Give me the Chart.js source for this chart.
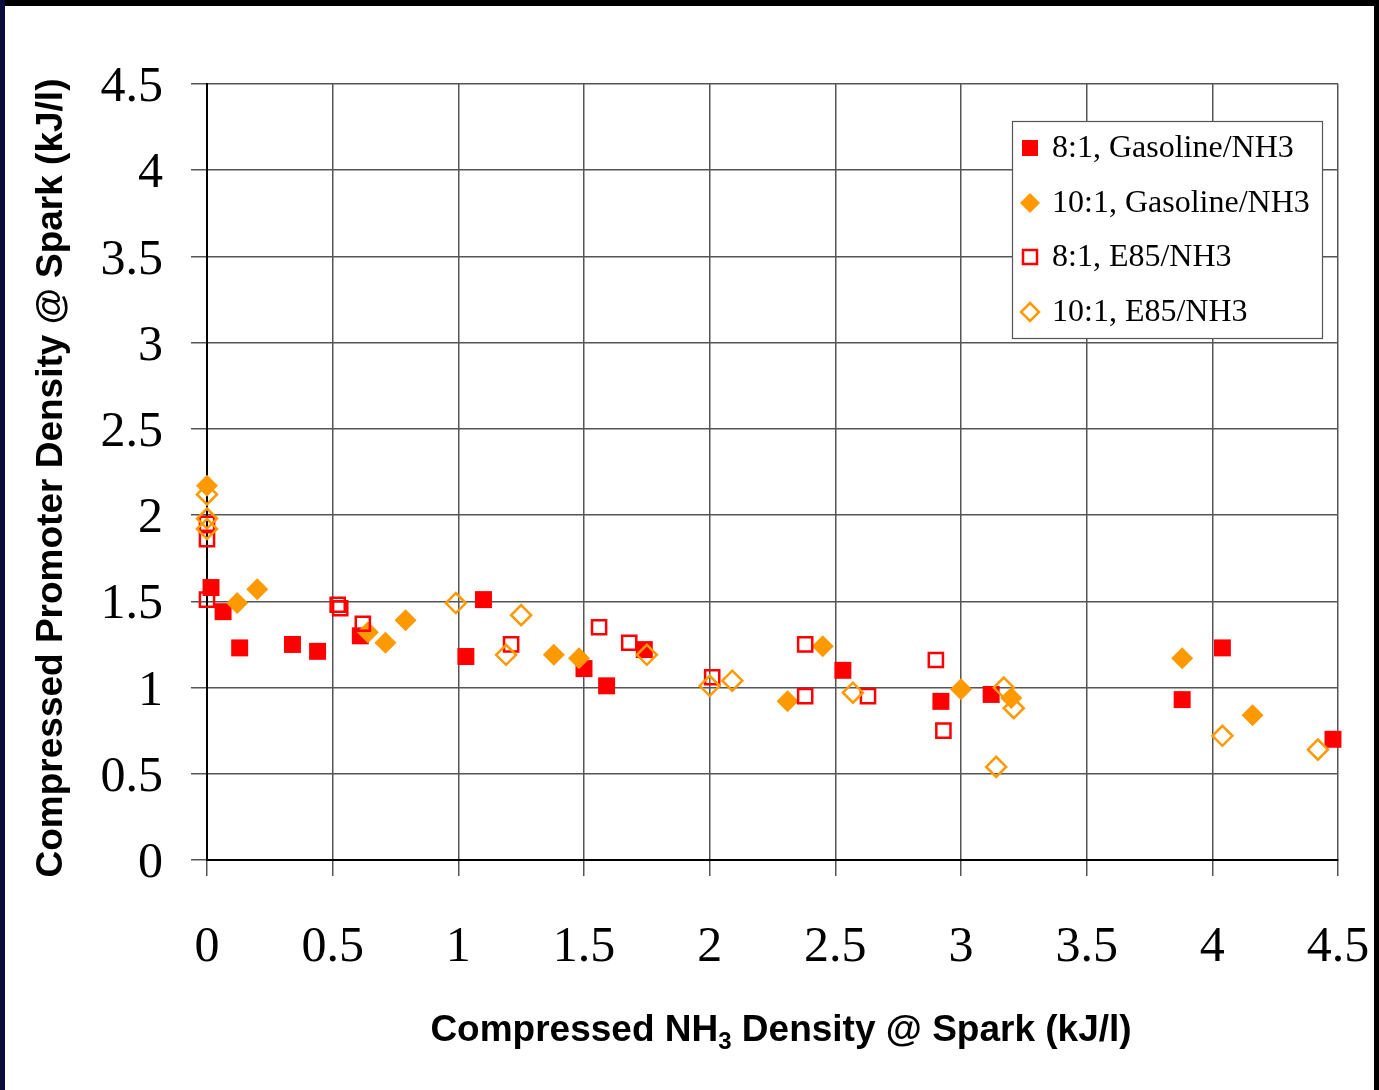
<!DOCTYPE html>
<html>
<head>
<meta charset="utf-8">
<title>Compressed promoter density vs NH3 density</title>
<script src="https://cdn.jsdelivr.net/npm/chart.js@4.4.0/dist/chart.umd.min.js"></script>
<style>
  html, body { margin: 0; padding: 0; background: #fff; }
  #wrap { position: relative; width: 1379px; height: 1090px; overflow: hidden; background: #fff; }
  #chart { position: absolute; left: 0; top: 0; }
  .band { position: absolute; }
</style>
</head>
<body>
<div id="wrap">
  <canvas id="chart" width="1379" height="1090"></canvas>
  <div class="band" style="left:0;top:0;width:1379px;height:6px;background:#000"></div>
  <div class="band" style="left:0;top:0;width:5px;height:1090px;background:#0b0b3c"></div>
  <div class="band" style="left:1374px;top:0;width:5px;height:1090px;background:#000"></div>
</div>
<script>
// Series data (x = NH3 density, y = promoter density)
const gas8X = [0.016, 0.064, 0.13, 0.34, 0.44, 0.61, 1.03, 1.10, 1.50, 1.59, 1.74, 2.53, 2.92, 3.12, 3.88, 4.04, 4.48];
const gas8Y = [1.58, 1.44, 1.23, 1.25, 1.21, 1.30, 1.18, 1.51, 1.11, 1.01, 1.22, 1.10, 0.92, 0.96, 0.93, 1.23, 0.70];

const gas10X = [0.0, 0.12, 0.20, 0.64, 0.71, 0.79, 1.38, 1.48, 2.31, 2.45, 3.00, 3.20, 3.88, 4.16];
const gas10Y = [2.17, 1.49, 1.57, 1.32, 1.26, 1.39, 1.19, 1.17, 0.92, 1.24, 0.99, 0.94, 1.17, 0.84];

const e85_8X = [0.0, 0.0, 0.0, 0.52, 0.53, 0.62, 1.21, 1.56, 1.68, 2.01, 2.38, 2.38, 2.63, 2.90, 2.93];
const e85_8Y = [1.95, 1.86, 1.51, 1.48, 1.46, 1.37, 1.25, 1.35, 1.26, 1.06, 1.25, 0.95, 0.95, 1.16, 0.75];

const e85_10X = [0.0, 0.0, 0.0, 0.99, 1.19, 1.25, 1.75, 2.00, 2.09, 2.57, 3.14, 3.17, 3.21, 4.04, 4.42];
const e85_10Y = [2.12, 1.98, 1.92, 1.49, 1.19, 1.42, 1.19, 1.01, 1.04, 0.97, 0.54, 1.00, 0.88, 0.72, 0.64];

const seriesNames = ["8:1, Gasoline/NH3", "10:1, Gasoline/NH3", "8:1, E85/NH3", "10:1, E85/NH3"];
const tickValues = [0, 0.5, 1, 1.5, 2, 2.5, 3, 3.5, 4, 4.5];

const RED = "#ff0000";
const ORANGE = "#ff9900";

function toPoints(xs, ys) {
  return xs.map((x, i) => ({ x: x, y: ys[i] }));
}

// legend drawn inside the plot, like the original
const legendPlugin = {
  id: "boxLegend",
  afterDraw(chart) {
    const ctx = chart.ctx;
    const left = 1012, top = 121, right = 1322, bottom = 338;
    ctx.save();
    ctx.fillStyle = "#fff";
    ctx.fillRect(left, top, right - left, bottom - top);
    ctx.strokeStyle = "#555";
    ctx.lineWidth = 1.2;
    ctx.strokeRect(left + 0.5, top + 0.5, right - left, bottom - top);

    const rows = [148, 203, 257, 312];
    const mx = 1030;
    ctx.font = '32px "Liberation Serif", "Times New Roman", serif';
    ctx.textBaseline = "middle";
    ctx.textAlign = "left";
    rows.forEach((y, i) => {
      ctx.beginPath();
      if (i === 0) {
        ctx.fillStyle = RED;
        ctx.fillRect(mx - 8, y - 8, 16, 16);
      } else if (i === 1) {
        ctx.fillStyle = ORANGE;
        ctx.moveTo(mx, y - 10); ctx.lineTo(mx + 10, y); ctx.lineTo(mx, y + 10); ctx.lineTo(mx - 10, y);
        ctx.closePath(); ctx.fill();
      } else if (i === 2) {
        ctx.strokeStyle = RED; ctx.lineWidth = 2.5;
        ctx.strokeRect(mx - 7, y - 7, 14, 14);
      } else {
        ctx.strokeStyle = ORANGE; ctx.lineWidth = 2.5;
        ctx.moveTo(mx, y - 9); ctx.lineTo(mx + 9, y); ctx.lineTo(mx, y + 9); ctx.lineTo(mx - 9, y);
        ctx.closePath(); ctx.stroke();
      }
      ctx.fillStyle = "#000";
      ctx.fillText(seriesNames[i], 1052, y + 1);
    });
    ctx.restore();
  }
};

// axis titles (x title needs a subscript 3)
const titlePlugin = {
  id: "axisTitles",
  afterDraw(chart) {
    const ctx = chart.ctx;
    ctx.save();
    ctx.fillStyle = "#000";
    const big = 'bold 37px "Liberation Sans", Arial, sans-serif';
    const small = 'bold 24px "Liberation Sans", Arial, sans-serif';
    const p1 = "Compressed NH", p2 = "3", p3 = " Density @ Spark (kJ/l)";
    ctx.font = big;
    const w1 = ctx.measureText(p1).width, w3 = ctx.measureText(p3).width;
    ctx.font = small;
    const w2 = ctx.measureText(p2).width;
    let x = 781 - (w1 + w2 + w3) / 2;
    const base = 1041;
    ctx.textBaseline = "alphabetic";
    ctx.textAlign = "left";
    ctx.font = big; ctx.fillText(p1, x, base); x += w1;
    ctx.font = small; ctx.fillText(p2, x, base + 8); x += w2;
    ctx.font = big; ctx.fillText(p3, x, base);

    ctx.translate(62, 478);
    ctx.rotate(-Math.PI / 2);
    ctx.font = big;
    ctx.textAlign = "center";
    ctx.fillText("Compressed Promoter Density @ Spark (kJ/l)", 0, 0);
    ctx.restore();
  }
};

const tickFont = { family: '"Liberation Serif", "Times New Roman", serif', size: 50 };
const gridStyle = { color: "#555", lineWidth: 1.5, tickLength: 16, tickColor: "#555" };

new Chart(document.getElementById("chart"), {
  type: "scatter",
  data: {
    datasets: [
      { label: seriesNames[0], data: toPoints(gas8X, gas8Y), order: 4, clip: false,
        pointStyle: "rect", pointRadius: 12, backgroundColor: RED, borderColor: RED, borderWidth: 0 },
      { label: seriesNames[1], data: toPoints(gas10X, gas10Y), order: 3, clip: false,
        pointStyle: "rectRot", pointRadius: 11, backgroundColor: ORANGE, borderColor: ORANGE, borderWidth: 0 },
      { label: seriesNames[2], data: toPoints(e85_8X, e85_8Y), order: 2, clip: false,
        pointStyle: "rect", pointRadius: 10, backgroundColor: "rgba(0,0,0,0)", borderColor: RED, borderWidth: 2.5 },
      { label: seriesNames[3], data: toPoints(e85_10X, e85_10Y), order: 1, clip: false,
        pointStyle: "rectRot", pointRadius: 10, backgroundColor: "rgba(0,0,0,0)", borderColor: ORANGE, borderWidth: 2.5 }
    ]
  },
  options: {
    responsive: false,
    animation: false,
    events: [],
    layout: { padding: { left: 0, top: 84, right: 41, bottom: 0 } },
    plugins: { legend: { display: false }, tooltip: { enabled: false } },
    scales: {
      x: {
        type: "linear", min: 0, max: 4.5,
        afterBuildTicks: s => { s.ticks = tickValues.map(v => ({ value: v })); },
        afterFit: s => { s.height = 230; s.paddingLeft = 0; s.paddingRight = 0; },
        grid: gridStyle,
        border: { color: "#000", width: 2 },
        ticks: { font: tickFont, color: "#000", padding: 42, maxRotation: 0, autoSkip: false,
                 callback: v => String(v) }
      },
      y: {
        type: "linear", min: 0, max: 4.5,
        afterBuildTicks: s => { s.ticks = tickValues.map(v => ({ value: v })); },
        afterFit: s => { s.width = 207; s.paddingTop = 0; s.paddingBottom = 0; },
        grid: gridStyle,
        border: { color: "#000", width: 2 },
        ticks: { font: tickFont, color: "#000", padding: 28, labelOffset: 4, autoSkip: false,
                 callback: v => String(v) }
      }
    }
  },
  plugins: [legendPlugin, titlePlugin]
});
</script>
</body>
</html>
